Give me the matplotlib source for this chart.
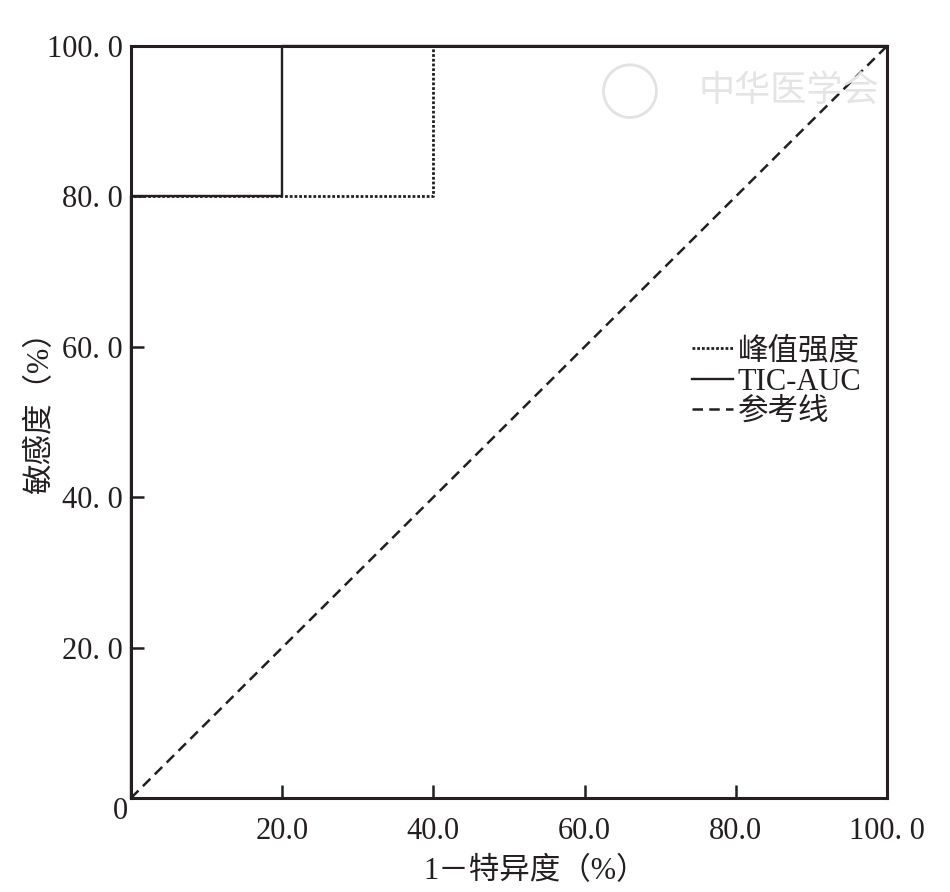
import matplotlib
matplotlib.use("Agg")
import matplotlib.pyplot as plt
from matplotlib.patches import Circle

plt.rcParams['font.family'] = ['Liberation Serif', 'Noto Sans CJK SC', 'DejaVu Sans']

# Data (percent)
fpr_peak = [0, 0, 40, 40, 100]
tpr_peak = [0, 80, 80, 100, 100]
fpr_tic = [0, 0, 20, 20, 100]
tpr_tic = [0, 80, 80, 100, 100]
ref_x = [0, 100]
ref_y = [0, 100]
xticks = [20, 40, 60, 80, 100]
xticklabels = ["20.0", "40.0", "60.0", "80.0", "100. 0"]
yticks = [20, 40, 60, 80, 100]
yticklabels = ["20. 0", "40. 0", "60. 0", "80. 0", "100. 0"]
labels = ["峰值强度", "TIC-AUC", "参考线"]

fig = plt.figure(figsize=(9.5, 8.92), dpi=100)
ax = fig.add_axes([0.1379, 0.1054, 0.7958, 0.8430])

c = '#231f20'
l1, = ax.plot(fpr_peak, tpr_peak, color=c, lw=2.0, linestyle=(0, (1.0, 0.7)), label=labels[0], clip_on=False)
l2, = ax.plot(fpr_tic, tpr_tic, color=c, lw=1.7, label=labels[1], clip_on=False)
l3, = ax.plot(ref_x, ref_y, color=c, lw=1.8, linestyle=(0, (4.2, 2.5)), label=labels[2])

ax.set_xlim(0, 100)
ax.set_ylim(0, 100)
for s in ax.spines.values():
    s.set_linewidth(2.2)
    s.set_color(c)

ax.set_xticks(xticks)
ax.set_xticklabels(xticklabels)
ax.set_yticks(yticks)
ax.set_yticklabels(yticklabels)
ax.tick_params(axis='both', direction='in', length=9.5, width=1.8, color=c, labelsize=22, labelcolor=c)
ax.tick_params(axis='x', pad=14)
ax.tick_params(axis='y', pad=6)
for t in ax.xaxis.get_major_ticks():
    if t.get_loc() == 100:
        t.tick1line.set_visible(False)

ax.annotate("0", xy=(0, 0), xycoords='axes fraction', xytext=(-11, -14),
            textcoords='offset pixels', ha='center', va='center', fontsize=22, color=c)

ax.set_xlabel("1－特异度（%）", fontsize=22, color=c)
ax.set_ylabel("敏感度（%）", fontsize=22, color=c)
ax.xaxis.set_label_coords(0.534, -0.078)
ax.yaxis.set_label_coords(-0.100, 0.523)

leg = ax.legend(handles=[l1, l2, l3], loc='upper left', bbox_to_anchor=(0.742, 0.613),
                frameon=False, fontsize=22, handlelength=1.35, handletextpad=0.15,
                labelspacing=0.05, borderpad=0, borderaxespad=0)
for t in leg.get_texts():
    t.set_color(c)

# faint watermark
ax.add_patch(Circle((0.66, 0.94), 0.035, transform=ax.transAxes, fill=False,
                    edgecolor='#e2e2e2', lw=2))
ax.text(0.87, 0.94, "中华医学会", transform=ax.transAxes, ha='center', va='center',
        fontsize=26, color='#e4e4e4', style='italic', family=['Noto Sans CJK SC'])

fig.savefig("out.png", dpi=100)
